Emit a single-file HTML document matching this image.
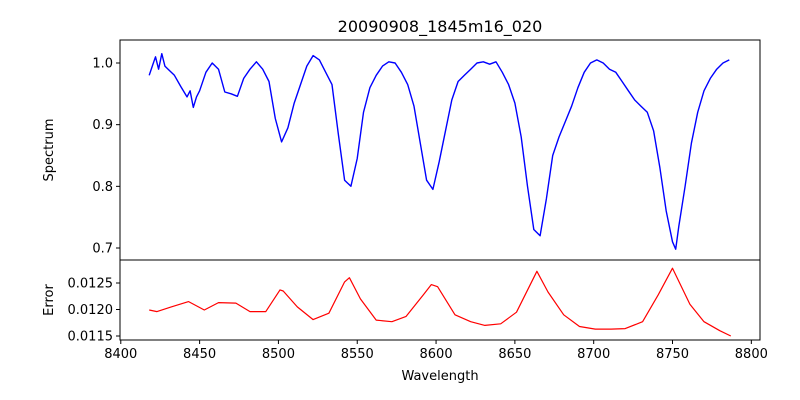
<!DOCTYPE html>
<html><head><meta charset="utf-8"><style>
body{margin:0;background:#fff}
svg{display:block;font-family:"DejaVu Sans","Liberation Sans",sans-serif}
</style></head><body>
<svg id="chart" width="800" height="400" viewBox="0 0 800 400"></svg>
<script>
const specWl=[8418,8420,8422,8424,8426,8428,8430,8434,8438,8442,8444,8446,8448,8450,8454,8458,8462,8466,8470,8474,8478,8482,8486,8490,8494,8498,8502,8506,8510,8514,8518,8522,8526,8530,8534,8538,8542,8546,8550,8554,8558,8562,8566,8570,8574,8578,8582,8586,8590,8594,8598,8602,8606,8610,8614,8618,8622,8626,8630,8634,8638,8642,8646,8650,8654,8658,8662,8666,8670,8674,8678,8682,8686,8690,8694,8698,8702,8706,8710,8714,8718,8722,8726,8730,8734,8738,8742,8746,8750,8752,8754,8758,8762,8766,8770,8774,8778,8782,8786];
const specVal=[0.98,0.995,1.01,0.99,1.015,0.995,0.99,0.98,0.962,0.945,0.955,0.928,0.945,0.955,0.985,1.0,0.99,0.953,0.95,0.946,0.975,0.99,1.002,0.99,0.97,0.91,0.872,0.895,0.935,0.965,0.995,1.012,1.005,0.985,0.965,0.885,0.81,0.80,0.845,0.92,0.96,0.98,0.995,1.002,1.0,0.985,0.965,0.93,0.87,0.81,0.795,0.84,0.89,0.94,0.97,0.98,0.99,1.0,1.002,0.998,1.002,0.985,0.965,0.935,0.88,0.80,0.73,0.72,0.78,0.85,0.88,0.905,0.93,0.96,0.985,1.0,1.005,1.0,0.99,0.985,0.97,0.955,0.94,0.93,0.92,0.89,0.83,0.76,0.71,0.698,0.735,0.80,0.87,0.92,0.955,0.975,0.99,1.0,1.005];
const errWl=[8418,8423,8432,8443,8453,8462,8473,8482,8492,8501,8503,8512,8522,8532,8542,8545,8552,8562,8572,8581,8592,8597,8601,8612,8622,8631,8641,8651,8664,8671,8681,8691,8701,8711,8720,8731,8741,8750,8761,8770,8780,8787];
const errVal=[0.01199,0.01196,0.01205,0.01215,0.01199,0.01213,0.01212,0.01196,0.01196,0.01237,0.01235,0.01205,0.01181,0.01193,0.01252,0.0126,0.0122,0.0118,0.01177,0.01187,0.01228,0.01247,0.01243,0.0119,0.01177,0.0117,0.01173,0.01195,0.01272,0.01233,0.0119,0.01168,0.01163,0.01163,0.01164,0.01177,0.01228,0.01278,0.0121,0.01177,0.0116,0.0115];
const xTicks=[8400,8450,8500,8550,8600,8650,8700,8750,8800];
const topTicks=[0.7,0.8,0.9,1.0];
const botTicks=[0.0115,0.0120,0.0125];
const botLabels=["0.0115","0.0120","0.0125"];

const NS="http://www.w3.org/2000/svg";
const svg=document.getElementById('chart');
const L=120,R=760,T1=40,B1=260,T2=260,B2=340;
const xMin=8399.5,xMax=8805.5;
const X=w=>L+(w-xMin)/(xMax-xMin)*(R-L);
const Y1=v=>63+(1.0-v)*616.7;
const Y2=v=>283+(0.0125-v)*53000;
function mk(tag,a){const e=document.createElementNS(NS,tag);for(const k in a)e.setAttribute(k,a[k]);svg.appendChild(e);return e;}
function txt(s,a){const e=mk('text',a);e.textContent=s;return e;}

const title=txt('20090908_1845m16_020',{x:440,y:32,'text-anchor':'middle','font-size':16,fill:'#000'});



const l1=mk('polyline',{points:specWl.map((w,i)=>X(w).toFixed(1)+','+Y1(specVal[i]).toFixed(1)).join(' '),fill:'none',stroke:'#0000ff','stroke-width':1.4,'stroke-linejoin':'round'});


const l2=mk('polyline',{points:errWl.map((w,i)=>X(w).toFixed(1)+','+Y2(errVal[i]).toFixed(1)).join(' '),fill:'none',stroke:'#ff0000','stroke-width':1.2,'stroke-linejoin':'round'});



const f1=mk('rect',{x:L,y:T1,width:R-L,height:B1-T1,fill:'none',stroke:'#000','stroke-width':1});


const f2=mk('rect',{x:L,y:T2,width:R-L,height:B2-T2,fill:'none',stroke:'#000','stroke-width':1});



topTicks.forEach(v=>{
  const y=Y1(v);
  const t=mk('line',{x1:L-4,x2:L,y1:y,y2:y,stroke:'#000'});
  
  
  const s=txt(v.toFixed(1),{x:L-7,y:y+4.5,'text-anchor':'end','font-size':13});
  
  
});
botTicks.forEach((v,i)=>{
  const y=Y2(v);
  const t=mk('line',{x1:L-4,x2:L,y1:y,y2:y,stroke:'#000'});
  
  
  const s=txt(botLabels[i],{x:L-7,y:y+4.5,'text-anchor':'end','font-size':13});
  
  
});
xTicks.forEach(w=>{
  const x=X(w);
  const t=mk('line',{x1:x,x2:x,y1:B2,y2:B2+4,stroke:'#000'});
  
  
  const s=txt(String(w),{x:x,y:B2+18,'text-anchor':'middle','font-size':13});
  
  
});
const xl=txt('Wavelength',{x:440,y:380,'text-anchor':'middle','font-size':13});


const yl1=txt('Spectrum',{x:0,y:0,'text-anchor':'middle','font-size':13,transform:'translate(53,150) rotate(-90)'});


const yl2=txt('Error',{x:0,y:0,'text-anchor':'middle','font-size':13,transform:'translate(53,300) rotate(-90)'});


</script>
</body></html>
